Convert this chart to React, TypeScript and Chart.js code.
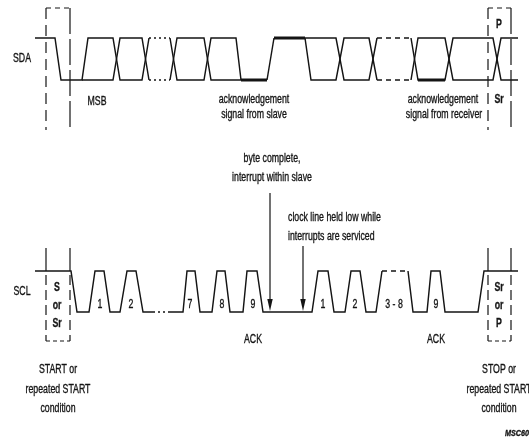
import React, { useEffect, useRef } from "react";
import { Chart, registerables } from "chart.js";

Chart.register(...registerables);

type Pt = [number, number]; // [time, level]  level: 1 = high, 0 = low

// ---------------- SDA waveform (time, level) ----------------
const sdaSolid: Pt[][] = [
  [[35, 1], [55, 1], [61, 0], [82, 0], [88, 1], [113, 1], [120, 0], [142, 0], [149, 1]],
  [[82, 0], [113, 0], [120, 1], [142, 1], [149, 0]],
  [[170, 1], [177, 0], [204, 0], [211, 1], [236, 1], [241, 0]],
  [[170, 0], [177, 1], [204, 1], [211, 0], [241, 0]],
  [[267, 0], [274, 1]],
  [[305, 1], [311, 0], [336, 0], [344, 1], [369, 1], [377, 0]],
  [[305, 1], [336, 1], [344, 0], [369, 0], [377, 1]],
  [[411, 1], [418, 0], [445, 0], [453, 1], [493, 1], [501, 0], [518, 0]],
  [[411, 0], [418, 1], [445, 1], [453, 0], [493, 0], [501, 1], [518, 1]],
];
const sdaDotted: Pt[][] = [
  [[149, 1], [170, 1]],
  [[149, 0], [170, 0]],
];
const sdaDashed: Pt[][] = [
  [[377, 1], [411, 1]],
  [[377, 0], [411, 0]],
];
const sdaThick: Pt[][] = [
  [[241, 0], [267, 0]],
  [[274, 1], [305, 1]],
  [[418, 0], [445, 0]],
];

// ---------------- SCL waveform (time, level) ----------------
const sclSolid: Pt[][] = [
  [[35, 1], [71, 1], [77, 0], [89, 0], [95, 1], [104, 1], [110, 0], [120, 0], [127, 1], [136, 1], [143, 0], [153, 0]],
  [[170, 0], [183, 0], [187, 1], [195, 1], [200, 0], [212, 0], [217, 1], [225, 1], [230, 0], [243, 0], [247, 1], [257, 1], [263, 0],
   [312, 0], [318, 1], [328, 1], [334, 0], [345, 0], [351, 1], [360, 1], [366, 0], [376, 0], [382, 1]],
  [[408, 1], [413, 0], [427, 0], [431, 1], [440, 1], [445, 0], [478, 0], [484, 1], [518, 1]],
];
const sclDotted: Pt[][] = [[[153, 0], [170, 0]]];
const sclDashed: Pt[][] = [[[382, 1], [408, 1]]];

// clock pulse labels
const sclBitLabels = ["1", "2", "7", "8", "9", "1", "2", "3 - 8", "9"];
const sclBitTimes = [100, 131, 190, 222, 253, 323, 355, 394, 436];
const ackTimes = [253, 436];

// condition windows (time ranges)
const startWindow = [46, 70];
const stopWindow = [488, 511];

// interrupt arrows (time)
const arrowTimes = [270, 303];

// ---------------- layout (pixels) ----------------
const W = 529;
const H = 445;
const SDA_HI = 38, SDA_LO = 80, SCL_HI = 271, SCL_LO = 312;
const BOX_TOP = 8, BOX_SDA_END = 130, BOX_SCL_TOP = 248, BOX_BOTTOM = 341;
const INK = "#141414";

const sdaY = (l: number) => (l ? SDA_HI : SDA_LO);
const sclY = (l: number) => (l ? SCL_HI : SCL_LO);

function seg(points: { x: number; y: number }[], width: number, dash: number[] = []) {
  return {
    data: points,
    showLine: true,
    pointRadius: 0,
    borderColor: INK,
    borderWidth: width,
    borderDash: dash,
    borderCapStyle: "butt",
    borderJoinStyle: "miter",
    tension: 0,
    fill: false,
  };
}

type TextItem = { t: string; x: number; y: number; size?: number; bold?: boolean; italic?: boolean; align?: CanvasTextAlign; sx?: number };

const texts: TextItem[] = [
  { t: "SDA", x: 22, y: 59 },
  { t: "SCL", x: 22, y: 292 },
  { t: "MSB", x: 97, y: 102 },
  { t: "acknowledgement", x: 254, y: 100 },
  { t: "signal from slave", x: 254, y: 115 },
  { t: "acknowledgement", x: 443, y: 100 },
  { t: "signal from receiver", x: 444, y: 115 },
  { t: "P", x: 499, y: 25, bold: true },
  { t: "Sr", x: 499, y: 100, bold: true },
  { t: "byte complete,", x: 272, y: 159 },
  { t: "interrupt within slave", x: 272, y: 178 },
  { t: "clock line held low while", x: 288, y: 218, align: "left" },
  { t: "interrupts are serviced", x: 288, y: 237, align: "left" },
  { t: "S", x: 57, y: 288, bold: true },
  { t: "or", x: 57, y: 306, bold: true },
  { t: "Sr", x: 57, y: 324, bold: true },
  { t: "Sr", x: 499, y: 288, bold: true },
  { t: "or", x: 499, y: 306, bold: true },
  { t: "P", x: 499, y: 324, bold: true },
  { t: "START or", x: 58, y: 370 },
  { t: "repeated START", x: 58, y: 390 },
  { t: "condition", x: 58, y: 409 },
  { t: "STOP or", x: 499, y: 370 },
  { t: "repeated START", x: 499, y: 390 },
  { t: "condition", x: 499, y: 409 },
  { t: "MSC608", x: 505, y: 434, size: 9, italic: true, bold: true, align: "left", sx: 0.8 },
];

function drawText(ctx: CanvasRenderingContext2D, it: TextItem) {
  const size = it.size ?? 12.5;
  ctx.save();
  ctx.translate(it.x, it.y);
  ctx.scale(it.sx ?? 0.7, 1);
  ctx.font = `${it.italic ? "italic " : ""}${it.bold ? "bold " : ""}${size}px "Liberation Sans", Arial, sans-serif`;
  ctx.fillStyle = INK;
  ctx.strokeStyle = INK;
  ctx.lineWidth = 0.35;
  ctx.textAlign = it.align ?? "center";
  ctx.textBaseline = "middle";
  ctx.fillText(it.t, 0, 0);
  ctx.strokeText(it.t, 0, 0);
  ctx.restore();
}

const annotate = {
  id: "annotate",
  afterDatasetsDraw(chart: any) {
    const ctx: CanvasRenderingContext2D = chart.ctx;
    const xs = chart.scales.x;
    const ys = chart.scales.y;
    const items: TextItem[] = [...texts];
    sclBitLabels.forEach((t, i) => items.push({ t, x: xs.getPixelForValue(sclBitTimes[i]), y: 305 }));
    ackTimes.forEach((tm) => items.push({ t: "ACK", x: xs.getPixelForValue(tm), y: 340 }));
    items.forEach((it) => drawText(ctx, it));
    const starts = [193, 246];
    arrowTimes.forEach((tm, i) => {
      const x = xs.getPixelForValue(tm);
      const y0 = ys.getPixelForValue(starts[i]);
      const tip = ys.getPixelForValue(SCL_LO - 1);
      ctx.save();
      ctx.strokeStyle = INK;
      ctx.fillStyle = INK;
      ctx.lineWidth = 1.2;
      ctx.beginPath();
      ctx.moveTo(x, y0);
      ctx.lineTo(x, tip - 8);
      ctx.stroke();
      ctx.beginPath();
      ctx.moveTo(x, tip);
      ctx.lineTo(x - 2.7, tip - 12);
      ctx.lineTo(x + 2.7, tip - 12);
      ctx.closePath();
      ctx.fill();
      ctx.restore();
    });
  },
};

export default function App() {
  const ref = useRef<HTMLCanvasElement | null>(null);

  useEffect(() => {
    document.body.style.margin = "0";
    const toPts = (p: Pt[], f: (l: number) => number) => p.map(([t, l]) => ({ x: t, y: f(l) }));
    const datasets: any[] = [];
    const LW = 1.45;
    sdaSolid.forEach((p) => datasets.push(seg(toPts(p, sdaY), LW)));
    sdaDotted.forEach((p) => datasets.push(seg(toPts(p, sdaY), LW, [2, 3])));
    sdaDashed.forEach((p) => datasets.push(seg(toPts(p, sdaY), LW, [5, 4])));
    sdaThick.forEach((p) => datasets.push(seg(toPts(p, sdaY), 3)));
    sclSolid.forEach((p) => datasets.push(seg(toPts(p, sclY), LW)));
    sclDotted.forEach((p) => datasets.push(seg(toPts(p, sclY), LW, [2, 3])));
    sclDashed.forEach((p) => datasets.push(seg(toPts(p, sclY), LW, [5, 4])));

    [startWindow, stopWindow].forEach(([a, b]) => {
      datasets.push(seg([{ x: a, y: BOX_TOP }, { x: b, y: BOX_TOP }], 1.2, [5, 4]));
      datasets.push(seg([{ x: a, y: BOX_TOP }, { x: a, y: BOX_SDA_END }], 1.2, [11, 6]));
      datasets.push(seg([{ x: b, y: BOX_TOP }, { x: b, y: BOX_SDA_END }], 1.2, [26, 5]));
      datasets.push(seg([{ x: a, y: BOX_SCL_TOP }, { x: a, y: SCL_HI }], 1.2));
      datasets.push(seg([{ x: b, y: BOX_SCL_TOP }, { x: b, y: SCL_HI }], 1.2));
      datasets.push(seg([{ x: a, y: SCL_HI + 4 }, { x: a, y: BOX_BOTTOM }], 1.2, [10, 5]));
      datasets.push(seg([{ x: b, y: SCL_HI + 4 }, { x: b, y: BOX_BOTTOM }], 1.2, [10, 5]));
      datasets.push(seg([{ x: a, y: BOX_BOTTOM }, { x: b, y: BOX_BOTTOM }], 1.2, [4, 3]));
    });

    const chart = new Chart(ref.current!, {
      type: "scatter",
      data: { datasets },
      options: {
        animation: false,
        responsive: true,
        maintainAspectRatio: false,
        events: [],
        layout: { padding: 0 },
        plugins: { legend: { display: false }, tooltip: { enabled: false } },
        scales: {
          x: { type: "linear", min: 0, max: W, display: false },
          y: { type: "linear", min: 0, max: H, reverse: true, display: false },
        },
      },
      plugins: [annotate],
    } as any);
    return () => chart.destroy();
  }, []);

  return (
    <div style={{ position: "absolute", left: 0, top: 0, width: W, height: H, background: "#fff" }}>
      <canvas ref={ref} />
    </div>
  );
}
